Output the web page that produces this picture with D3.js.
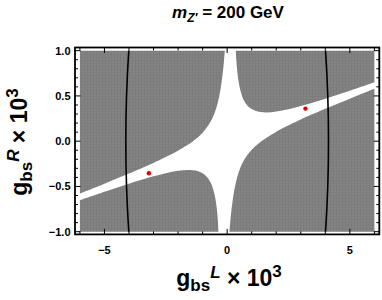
<!DOCTYPE html>
<html>
<head>
<meta charset="utf-8">
<script src="https://cdn.jsdelivr.net/npm/d3@7"></script>
<style>
body { margin: 0; background: #fff; }
svg { display: block; font-family: "Liberation Sans", Arial, sans-serif; font-weight: bold; }
</style>
</head>
<body>
<svg id="mainSVG"></svg>
<script>
// tick values and labels
var xMajor = [-5, 0, 5];
var xMajorLabels = ["\u22125", "0", "5"];
var xMinor = [-6, -4, -3, -2, -1, 1, 2, 3, 4, 6];
var yMajor = [-1, -0.5, 0, 0.5, 1];
var yMajorLabels = ["\u22121.0", "\u22120.5", "0.0", "0.5", "1.0"];
var yMinor = [-0.9, -0.8, -0.7, -0.6, -0.4, -0.3, -0.2, -0.1, 0.1, 0.2, 0.3, 0.4, 0.6, 0.7, 0.8, 0.9];

// boundaries of the shaded (excluded) regions, [gL, gR]
var upperLeftEdge = [[-0.094, 1], [-0.125, 0.9], [-0.16, 0.8], [-0.203, 0.7], [-0.254, 0.6], [-0.32, 0.5],
    [-0.407, 0.4], [-0.527, 0.3], [-0.706, 0.2], [-0.979, 0.1], [-1.393, 0], [-1.972, -0.1], [-2.317, -0.15],
    [-2.69, -0.2], [-3, -0.24], [-4, -0.357], [-5, -0.469], [-6, -0.578]];
var upperRightEdge = [[0.354, 1], [0.374, 0.9], [0.402, 0.8], [0.443, 0.7], [0.504, 0.6], [0.606, 0.5],
    [0.685, 0.45], [0.805, 0.4], [0.966, 0.36], [1.208, 0.33], [1.578, 0.318], [2.0, 0.328], [2.5, 0.354],
    [3, 0.388], [4, 0.469], [5, 0.558], [6, 0.652]];
var lowerRightEdge = [[0.094, -1], [0.125, -0.9], [0.16, -0.8], [0.203, -0.7], [0.254, -0.6], [0.32, -0.5],
    [0.407, -0.4], [0.527, -0.3], [0.706, -0.2], [0.979, -0.1], [1.393, 0], [1.972, 0.1], [2.317, 0.15],
    [2.69, 0.2], [3, 0.24], [4, 0.357], [5, 0.469], [6, 0.578]];
var lowerLeftEdge = [[-0.354, -1], [-0.374, -0.9], [-0.402, -0.8], [-0.443, -0.7], [-0.504, -0.6], [-0.606, -0.5],
    [-0.685, -0.45], [-0.805, -0.4], [-0.966, -0.36], [-1.208, -0.33], [-1.578, -0.318], [-2.0, -0.328], [-2.5, -0.354],
    [-3, -0.388], [-4, -0.469], [-5, -0.558], [-6, -0.652]];

// black contour lines
var contourY = [-1, -0.75, -0.5, -0.25, 0, 0.25, 0.5, 0.75, 1];
var rightContourX = [4.007, 4.062, 4.1, 4.123, 4.13, 4.123, 4.1, 4.062, 4.007];
var leftContourX = [-4.007, -4.062, -4.1, -4.123, -4.13, -4.123, -4.1, -4.062, -4.007];

// red points
var pointsL = [3.19, -3.19];
var pointsR = [0.36, -0.355];

var width = 382;
var height = 300;

var svg = d3.select("#mainSVG")
    .attr("width", width)
    .attr("height", height);

var x = d3.scaleLinear().domain([-6.2, 6.2]).range([75, 379.3]);
var y = d3.scaleLinear().domain([-1.03, 1.035]).range([234.4, 47.5]);

// texture for the gray region
var pat = svg.append("defs").append("pattern")
    .attr("id", "tex")
    .attr("width", 3)
    .attr("height", 3)
    .attr("patternUnits", "userSpaceOnUse");
pat.append("rect").attr("width", 3).attr("height", 3).attr("fill", "#848484");
pat.append("rect").attr("width", 1).attr("height", 3).attr("fill", "#7b7b7b");
pat.append("rect").attr("width", 3).attr("height", 1).attr("fill", "#7d7d7d");

var edgeLine = d3.line()
    .x(function(d) { return x(d[0]); })
    .y(function(d) { return y(d[1]); })
    .curve(d3.curveCatmullRom);

var regions = [
    { edge: upperLeftEdge, corner: [-6, 1] },
    { edge: upperRightEdge, corner: [6, 1] },
    { edge: lowerRightEdge, corner: [6, -1] },
    { edge: lowerLeftEdge, corner: [-6, -1] }
];

svg.append("g")
    .selectAll("path")
    .data(regions)
    .enter()
    .append("path")
    .attr("d", function(d) {
        return edgeLine(d.edge) + "L" + x(d.corner[0]) + "," + y(d.corner[1]) + "Z";
    })
    .attr("fill", "url(#tex)");

// the two black curves
[rightContourX, leftContourX].forEach(function(xs) {
    svg.append("path")
        .attr("d", edgeLine(xs.map(function(v, i) { return [v, contourY[i]]; })))
        .attr("fill", "none")
        .attr("stroke", "#000")
        .attr("stroke-width", 1.6);
});

// red points
svg.append("g")
    .selectAll("circle")
    .data(d3.range(pointsL.length))
    .enter()
    .append("circle")
    .attr("cx", function(d) { return x(pointsL[d]); })
    .attr("cy", function(d) { return y(pointsR[d]); })
    .attr("r", 2.2)
    .attr("fill", "#e00000");

// frame
var x0 = x.range()[0], x1 = x.range()[1];
var y0 = y.range()[0], y1 = y.range()[1];
svg.append("rect")
    .attr("x", x0)
    .attr("y", y1)
    .attr("width", x1 - x0)
    .attr("height", y0 - y1)
    .attr("fill", "none")
    .attr("stroke", "#000")
    .attr("stroke-width", 1.8);

// ticks on all four sides, pointing inwards
var ticks = svg.append("g").attr("stroke", "#000").attr("stroke-width", 1);
function xTick(v, len) {
    ticks.append("line").attr("x1", x(v)).attr("x2", x(v)).attr("y1", y0).attr("y2", y0 - len);
    ticks.append("line").attr("x1", x(v)).attr("x2", x(v)).attr("y1", y1).attr("y2", y1 + len);
}
function yTick(v, len) {
    ticks.append("line").attr("x1", x0).attr("x2", x0 + len).attr("y1", y(v)).attr("y2", y(v));
    ticks.append("line").attr("x1", x1).attr("x2", x1 - len).attr("y1", y(v)).attr("y2", y(v));
}
xMajor.forEach(function(v) { xTick(v, 5.5); });
xMinor.forEach(function(v) { xTick(v, 3); });
yMajor.forEach(function(v) { yTick(v, 5.5); });
yMinor.forEach(function(v) { yTick(v, 3); });

// tick labels
svg.append("g")
    .selectAll("text")
    .data(xMajor)
    .enter()
    .append("text")
    .attr("x", function(d) { return x(d); })
    .attr("y", 254)
    .attr("text-anchor", "middle")
    .style("font-size", "11px")
    .text(function(d, i) { return xMajorLabels[i]; });

svg.append("g")
    .selectAll("text")
    .data(yMajor)
    .enter()
    .append("text")
    .attr("x", 70.5)
    .attr("y", function(d) { return y(d) + 4; })
    .attr("text-anchor", "end")
    .style("font-size", "11px")
    .text(function(d, i) { return yMajorLabels[i]; });

// title
var title = svg.append("text")
    .attr("x", 228)
    .attr("y", 18)
    .attr("text-anchor", "middle")
    .style("font-size", "17px");
title.append("tspan").style("font-style", "italic").text("m");
title.append("tspan").style("font-style", "italic").style("font-size", "12px").attr("dy", 4).text("Z\u2032");
title.append("tspan").attr("dy", -4).text(" = 200 GeV");

// axis titles
function axisTitle(sel, upper) {
    sel.append("tspan").text("g");
    sel.append("tspan").style("font-size", "17px").attr("dy", 5).text("bs");
    sel.append("tspan").style("font-size", "17px").style("font-style", "italic").attr("dy", -13).text(upper);
    sel.append("tspan").attr("dy", 8).text(" \u00d7 10");
    sel.append("tspan").style("font-size", "17px").attr("dy", -9).text("3");
}

var xTitle = svg.append("text")
    .attr("x", 229)
    .attr("y", 286)
    .attr("text-anchor", "middle")
    .style("font-size", "23px");
axisTitle(xTitle, "L");

var yTitle = svg.append("text")
    .attr("transform", "translate(27,142) rotate(-90)")
    .attr("text-anchor", "middle")
    .style("font-size", "23px");
axisTitle(yTitle, "R");
</script>
</body>
</html>
